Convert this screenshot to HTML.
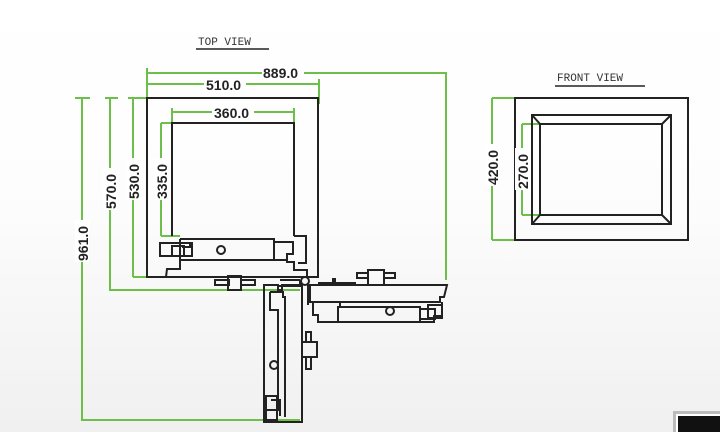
<!DOCTYPE html>
<html><head><meta charset="utf-8"><style>
html,body{margin:0;padding:0}
body{width:720px;height:432px;overflow:hidden;background:linear-gradient(#ffffff 0%,#fdfdfd 45%,#f0f0f0 100%)}
svg{display:block}
.d{fill:#222;font-family:"Liberation Sans",sans-serif;font-size:14px;font-weight:bold}
.t{fill:#333;font-family:"Liberation Mono",monospace;font-size:11px}
</style></head><body>
<svg width="720" height="432" viewBox="0 0 720 432">
<g stroke="#6cc04a" stroke-width="2" fill="none">
<path d="M147 73H446V280M147 68V98"/>
<path d="M147 84H319M319 79V104"/>
<path d="M172 112H294M172 108V123M294 108V123"/>
<path d="M161 123V236M161 123H172M161 236H180"/>
<path d="M133 98V277M128 98H147M133 277H147"/>
<path d="M110 98V290H300M105 98H118"/>
<path d="M82 98V420H300M75 98H90"/>
<path d="M492 98V240M492 98H515M492 240H515"/>
<path d="M522 124V215M522 124H540M522 215H540"/>
</g>
<g stroke="#222" stroke-width="2" fill="none">
<rect x="147" y="98" width="171" height="179"/>
<path d="M172 236V123H294V236"/>
<path d="M180 239H274V242H293V254H287V262H294V270H307V277"/>
<path d="M180 239V260H287"/>
<path d="M274 242V260"/>
<path d="M190 243V247H182"/>
<rect x="160" y="243" width="32" height="13"/>
<rect x="172" y="246" width="12" height="10"/>
<path d="M147 277H166L167 269H180V260"/>
<circle cx="221" cy="250" r="4"/>
<path d="M294 236H306V263H298"/>
<rect x="215" y="280" width="14" height="5"/>
<rect x="228" y="276" width="13" height="14"/>
<rect x="241" y="280" width="14" height="5"/>
<circle cx="305" cy="281" r="4"/>
<path d="M277 277H318M280 280H300M278 286H300V280"/>
<path d="M264 285V422H302V285H282V290H278V285Z"/>
<path d="M270 292H283V297H285V417"/>
<path d="M270 292V310H278V410H265"/>
<path d="M266 396H277V420H266Z"/>
<path d="M271 400H280V416"/>
<circle cx="274" cy="365" r="4"/>
<path d="M302 285V310M308 283V305"/>
<rect x="306" y="332" width="5" height="10"/>
<rect x="302" y="342" width="15" height="15"/>
<rect x="306" y="357" width="5" height="12"/>
<path d="M310 285H447L444 297H440V302H310Z"/>
<path d="M318 283H333V279H335V283H355V285"/>
<path d="M313 302V315H318V322H338V307H340V302"/>
<path d="M338 307H420V322H338M420 322H434V316H442V302"/>
<rect x="420" y="309" width="15" height="10"/>
<rect x="428" y="305" width="14" height="13"/>
<circle cx="390" cy="311" r="4"/>
<rect x="357" y="273" width="11" height="5"/>
<rect x="368" y="270" width="16" height="15"/>
<rect x="384" y="273" width="11" height="5"/>
<rect x="515" y="98" width="173" height="142"/>
<rect x="532" y="115" width="139" height="109"/>
<rect x="540" y="124" width="122" height="91"/>
<path d="M532 115L540 124M671 115L662 124M532 224L540 215M671 224L662 215"/>
</g>
<text class="t" x="198" y="45">TOP VIEW</text>
<path d="M196 49H269" stroke="#222" stroke-width="1.5"/>
<text class="t" x="557" y="81">FRONT VIEW</text>
<path d="M555 86H645" stroke="#222" stroke-width="1.5"/>
<g class="d">
<rect x="262" y="64" width="42" height="14" fill="#fff"/>
<text x="263" y="78">889.0</text>
<rect x="204" y="76" width="42" height="14" fill="#fff"/>
<text x="206" y="90">510.0</text>
<rect x="212" y="104" width="42" height="14" fill="#fff"/>
<text x="214" y="118">360.0</text>
<g transform="translate(167,200) rotate(-90)"><rect x="0" y="-13" width="42" height="14" fill="#fff"/><text x="1" y="0">335.0</text></g>
<g transform="translate(139,200) rotate(-90)"><rect x="0" y="-13" width="42" height="14" fill="#fff"/><text x="1" y="0">530.0</text></g>
<g transform="translate(116,210) rotate(-90)"><rect x="0" y="-13" width="42" height="14" fill="#fff"/><text x="1" y="0">570.0</text></g>
<g transform="translate(88,262) rotate(-90)"><rect x="0" y="-13" width="42" height="14" fill="#fff"/><text x="1" y="0">961.0</text></g>
<g transform="translate(498,186) rotate(-90)"><rect x="0" y="-13" width="42" height="14" fill="#fff"/><text x="1" y="0">420.0</text></g>
<g transform="translate(528,190) rotate(-90)"><rect x="0" y="-13" width="42" height="14" fill="#fff"/><text x="1" y="0">270.0</text></g>
</g>
<rect x="673" y="411" width="47" height="21" fill="#bbb"/>
<rect x="676" y="414" width="44" height="18" fill="#fff"/>
<rect x="678" y="416" width="42" height="16" fill="#111"/>
</svg>
</body></html>
